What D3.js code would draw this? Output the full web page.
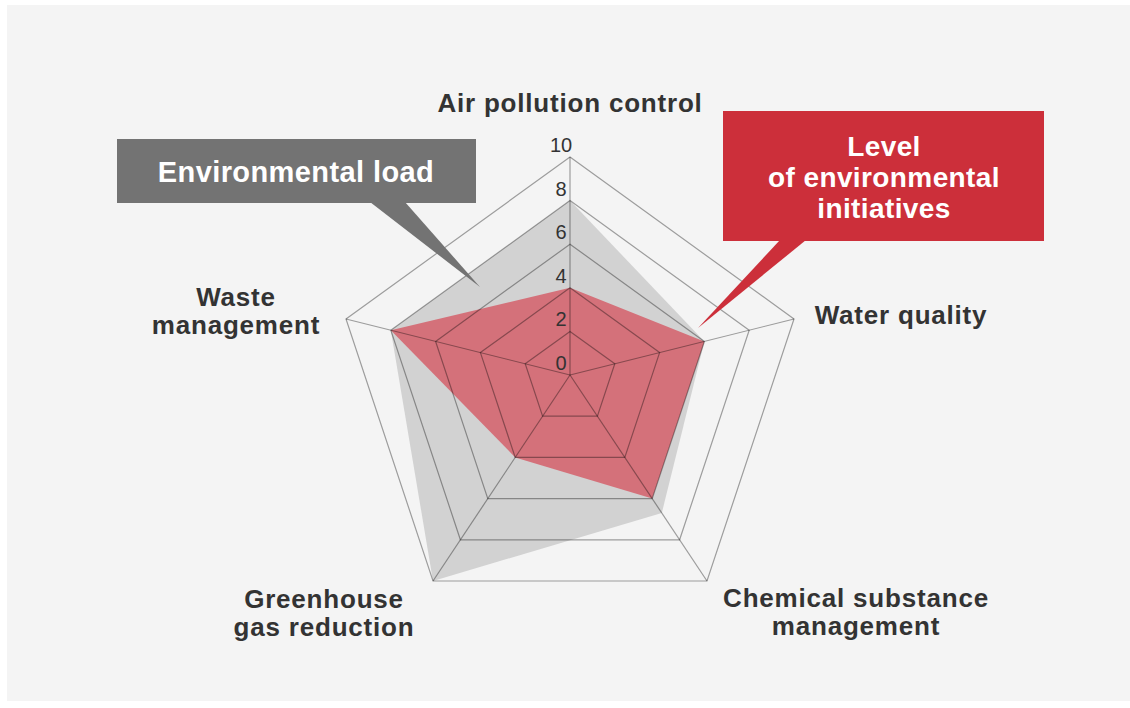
<!DOCTYPE html>
<html>
<head>
<meta charset="utf-8">
<script src="https://cdn.jsdelivr.net/npm/d3@7"></script>
<style>
  html, body { margin: 0; padding: 0; background: #ffffff; }
  svg { display: block; }
</style>
</head>
<body>
<svg id="chart" width="1130" height="708"></svg>
<script>
// ---------- data ----------
const categories = [
  "Air pollution control",
  "Water quality",
  "Chemical substance management",
  "Greenhouse gas reduction",
  "Waste management"
];
const categoryLines = [
  ["Air pollution control"],
  ["Water quality"],
  ["Chemical substance", "management"],
  ["Greenhouse", "gas reduction"],
  ["Waste", "management"]
];
const environmentalLoad = [8, 6, 6.7, 10, 8];
const environmentalInitiatives = [4, 6, 6, 4, 8];
const tickValues = [0, 2, 4, 6, 8, 10];
const tickLabels = ["0", "2", "4", "6", "8", "10"];
const seriesNames = ["Environmental load", "Level\nof environmental\ninitiatives"];

// ---------- layout ----------
const W = 1130, H = 708;
const cx = 570, cy = 375;
// outer (value 10) vertex offsets for each spoke, as drawn in the reference
const spokeVectors = [
  [0, -218],
  [224, -56],
  [137, 206],
  [-137, 206],
  [-224, -56]
];
const r = d3.scaleLinear().domain([0, 10]).range([0, 1]);
const pt = (i, v) => [cx + spokeVectors[i][0] * r(v), cy + spokeVectors[i][1] * r(v)];
const line = d3.line().curve(d3.curveLinearClosed);

const svg = d3.select("#chart");
svg.append("rect").attr("x", 7).attr("y", 5).attr("width", W - 7).attr("height", 696).attr("fill", "#f4f4f4");

const g = svg.append("g");

// series fills
g.append("path")
  .attr("d", line(environmentalLoad.map((v, i) => pt(i, v))))
  .attr("fill", "#d2d2d2");
g.append("path")
  .attr("d", line(environmentalInitiatives.map((v, i) => pt(i, v))))
  .attr("fill", "#d4717a");

// grid rings
const rings = tickValues.filter(v => v > 0);
g.selectAll("path.ring").data(rings).join("path")
  .attr("class", "ring")
  .attr("d", v => line(categories.map((c, i) => pt(i, v))))
  .attr("fill", "none")
  .attr("stroke", "rgba(0,0,0,0.36)")
  .attr("stroke-width", 1.2);
// spokes
g.selectAll("line.spoke").data(categories).join("line")
  .attr("class", "spoke")
  .attr("x1", cx).attr("y1", cy)
  .attr("x2", (c, i) => pt(i, 10)[0])
  .attr("y2", (c, i) => pt(i, 10)[1])
  .attr("stroke", "rgba(0,0,0,0.36)")
  .attr("stroke-width", 1.2);

// tick labels
g.selectAll("text.tick").data(tickValues).join("text")
  .attr("class", "tick")
  .attr("x", 561)
  .attr("y", v => pt(0, v)[1] - 5)
  .attr("text-anchor", "middle")
  .attr("font-family", "Liberation Sans, Arial, sans-serif")
  .attr("font-size", 20)
  .attr("fill", "#333")
  .text((v, i) => tickLabels[i]);

// category labels
const labelAnchors = [
  [570, 112], [901, 324], [856, 607], [324, 608], [236, 306]
];
const labelFont = "Liberation Sans, Arial, Helvetica, sans-serif";
categoryLines.forEach((lines, i) => {
  const t = g.append("text")
    .attr("x", labelAnchors[i][0])
    .attr("y", labelAnchors[i][1])
    .attr("text-anchor", "middle")
    .attr("font-family", labelFont)
    .attr("font-weight", "bold")
    .attr("font-size", 26)
    .attr("letter-spacing", 0.8)
    .attr("fill", "#333");
  lines.forEach((l, k) => {
    t.append("tspan").attr("x", labelAnchors[i][0]).attr("dy", k === 0 ? 0 : 28).text(l);
  });
});

// callouts
function callout(box, tail, fill, lines, tx, ty, lh, fs) {
  const c = svg.append("g");
  c.append("rect").attr("x", box[0]).attr("y", box[1]).attr("width", box[2]).attr("height", box[3]).attr("fill", fill);
  c.append("path").attr("d", d3.line()(tail) + "Z").attr("fill", fill);
  const t = c.append("text")
    .attr("x", tx).attr("y", ty)
    .attr("text-anchor", "middle")
    .attr("font-family", labelFont)
    .attr("font-weight", "bold")
    .attr("font-size", fs)
    .attr("letter-spacing", 0.4)
    .attr("fill", "#ffffff");
  lines.forEach((l, k) => t.append("tspan").attr("x", tx).attr("dy", k === 0 ? 0 : lh).text(l));
}
callout([117, 139, 359, 64], [[370, 202], [405, 202], [480, 287]], "#737373",
  seriesNames[0].split("\n"), 296, 182, 0, 29);
callout([723, 111, 321, 130], [[780, 240], [806, 240], [698, 328]], "#cc2f3a",
  seriesNames[1].split("\n"), 884, 156, 31, 28);
</script>
</body>
</html>
